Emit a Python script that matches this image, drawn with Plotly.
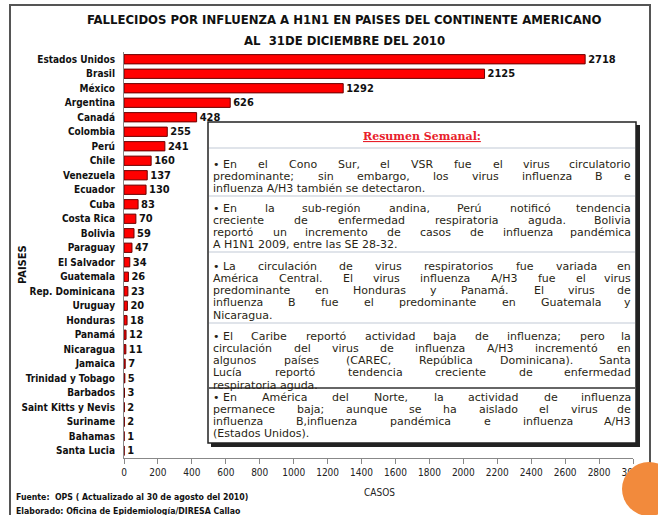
import plotly.graph_objects as go

paises = ['Estados Unidos', 'Brasil', 'México', 'Argentina', 'Canadá', 'Colombia', 'Perú',
          'Chile', 'Venezuela', 'Ecuador', 'Cuba', 'Costa Rica', 'Bolivia', 'Paraguay',
          'El Salvador', 'Guatemala', 'Rep. Dominicana', 'Uruguay', 'Honduras', 'Panamá',
          'Nicaragua', 'Jamaica', 'Trinidad y Tobago', 'Barbados', 'Saint Kitts y Nevis',
          'Suriname', 'Bahamas', 'Santa Lucia']
fallecidos = [2718, 2125, 1292, 626, 428, 255, 241, 160, 137, 130, 83, 70, 59, 47,
              34, 26, 23, 20, 18, 12, 11, 7, 5, 3, 2, 2, 1, 1]

titulo = ['FALLECIDOS POR INFLUENZA A H1N1 EN PAISES DEL CONTINENTE AMERICANO',
          'AL  31DE DICIEMBRE DEL 2010']

resumen = [
    ['• En el Cono Sur, el VSR fue el virus circulatorio',
     'predominante; sin embargo, los virus influenza B e',
     'influenza A/H3 también se detectaron.'],
    ['• En la sub-región andina, Perú notificó tendencia',
     'creciente de enfermedad respiratoria aguda. Bolivia',
     'reportó un incremento de casos de influenza pandémica',
     'A H1N1 2009, entre las SE 28-32.'],
    ['• La circulación de virus respiratorios fue variada en',
     'América Central. El virus influenza A/H3 fue el virus',
     'predominante en Honduras y Panamá. El virus de',
     'influenza B fue el predominante en Guatemala y',
     'Nicaragua.'],
    ['• El Caribe reportó actividad baja de influenza; pero la',
     'circulación del virus de influenza A/H3 incrementó en',
     'algunos países (CAREC, República Dominicana). Santa',
     'Lucía reportó tendencia creciente de enfermedad',
     'respiratoria aguda.'],
    ['• En América del Norte, la actividad de influenza',
     'permanece baja; aunque se ha aislado el virus de',
     'influenza B,influenza pandémica e influenza A/H3',
     '(Estados Unidos).'],
]
inicio_seccion = [164, 208, 266, 336, 397]
separadores = [148, 196, 252, 323, 388]

# area de trazado en pixeles
X0, X1, Y0, Y1 = 124, 633, 52, 458


def px(x):
    return (x - X0) / (X1 - X0)


def py(y):
    return (Y1 - y) / (Y1 - Y0)


# anchos aproximados de DejaVu Sans (fraccion del em) para justificar el texto
ANCHOS = {' ': .318, 'a': .613, 'b': .635, 'c': .55, 'd': .635, 'e': .615, 'f': .352,
          'g': .635, 'h': .634, 'i': .278, 'j': .278, 'k': .579, 'l': .278, 'm': .974,
          'n': .634, 'o': .612, 'p': .635, 'q': .635, 'r': .411, 's': .521, 't': .392,
          'u': .634, 'v': .592, 'w': .818, 'x': .592, 'y': .592, 'z': .525,
          'A': .684, 'B': .686, 'C': .698, 'D': .77, 'E': .632, 'F': .575, 'G': .775,
          'H': .752, 'I': .295, 'L': .557, 'M': .863, 'N': .748, 'O': .787, 'P': .603,
          'R': .695, 'S': .635, 'T': .611, 'U': .732, 'V': .684, '\u00a0': .318,
          '.': .318, ',': .318, ';': .337, ':': .337, '(': .39, ')': .39, '-': .361,
          '/': .337, '•': .59, 'é': .615, 'ó': .612, 'ú': .634, 'á': .613, 'í': .278}


def ancho(palabra, size):
    return sum(ANCHOS.get(c, .636) for c in palabra) * size


FONT = 'DejaVu Sans Condensed, Liberation Sans Narrow, Lato, sans-serif'
TXT = 'DejaVu Sans, Verdana, sans-serif'
TXT_SIZE = 11
TX0, TX1 = 212, 632

fig = go.Figure(go.Bar(
    x=fallecidos, y=paises, orientation='h',
    marker=dict(color='#ff0000', line=dict(color='#6b0000', width=1)),
    text=[str(v) for v in fallecidos], textposition='outside', constraintext='none',
    textfont=dict(family=FONT, size=11, color='#111111', weight='bold'),
    cliponaxis=False,
))

fig.update_layout(
    width=658, height=515,
    paper_bgcolor='#ffffff', plot_bgcolor='#ffffff',
    margin=dict(l=X0, r=658 - X1, t=Y0, b=515 - Y1, autoexpand=False),
    bargap=0.36, showlegend=False,
    font=dict(family=FONT, color='#111111'),
    xaxis=dict(range=[0, 3000], dtick=200, showgrid=False, zeroline=False,
               showline=True, linecolor='#888888', linewidth=1,
               ticks='outside', ticklen=5, tickcolor='#888888',
               tickfont=dict(family=FONT, size=10, color='#222222')),
    yaxis=dict(autorange='reversed', showgrid=False, showline=True,
               linecolor='#888888', linewidth=1, ticks='', ticklabelstandoff=6,
               tickfont=dict(family=FONT, size=10, color='#111111', weight='bold')),
)

shapes = [
    # marco exterior
    dict(type='rect', xref='paper', yref='paper', x0=px(10), x1=px(650), y0=py(525), y1=py(5),
         line=dict(color='#555555', width=2), layer='below'),
    # sombra del cuadro de texto
    dict(type='rect', xref='paper', yref='paper', x0=px(211), x1=px(640), y0=py(447), y1=py(125),
         fillcolor='#222222', line=dict(width=0), layer='above'),
    # cuadro de texto
    dict(type='rect', xref='paper', yref='paper', x0=px(208), x1=px(636), y0=py(443), y1=py(122),
         fillcolor='#ffffff', line=dict(color='#222222', width=1.5), layer='above'),
    # circulo naranja
    dict(type='circle', xref='paper', yref='paper', x0=px(622), x1=px(676), y0=py(516), y1=py(462),
         fillcolor='#f28a3c', line=dict(width=0), layer='above'),
]
for i, s in enumerate(separadores):
    color = '#333333' if i == len(separadores) - 1 else '#d6dbe3'
    shapes.append(dict(type='line', xref='paper', yref='paper', x0=px(209), x1=px(635),
                       y0=py(s), y1=py(s), line=dict(color=color, width=1.5), layer='above'))
fig.update_layout(shapes=shapes)


def nota(texto, x, y, size, xanchor='center', **kw):
    return dict(text=texto, x=px(x), y=py(y), xref='paper', yref='paper', showarrow=False,
                xanchor=xanchor, yanchor='middle', font=dict(family=FONT, size=size, **kw))


annotations = [
    nota(titulo[0], 344, 19, 13, weight='bold', color='#111111'),
    nota(titulo[1], 344, 40, 13, weight='bold', color='#111111'),
    nota('PAISES', 22, 265, 11, weight='bold') | dict(textangle=-90),
    nota('CASOS', 379, 492, 10, color='#222222'),
    nota('Fuente:  OPS ( Actualizado al 30 de agosto del 2010)', 14, 497, 8.7,
         xanchor='left', weight='bold'),
    nota('Elaborado: Oficina de Epidemiología/DIRESA Callao', 14, 511, 8.7,
         xanchor='left', weight='bold'),
    dict(text='<u>Resumen Semanal:</u>', x=px(422), y=py(136), xref='paper', yref='paper',
         showarrow=False, yanchor='middle',
         font=dict(family='DejaVu Serif, serif', size=11, color='#e8202a', weight='bold')),
]

txt_font = dict(family=TXT, size=TXT_SIZE, color='#2a1f14')
for lineas, y_ini in zip(resumen, inicio_seccion):
    for j, linea in enumerate(lineas):
        y = py(y_ini + j * 12.3)
        if j == len(lineas) - 1:
            annotations.append(dict(text=linea, x=px(TX0), y=y, xref='paper', yref='paper',
                                    xanchor='left', yanchor='middle', showarrow=False,
                                    borderpad=0, font=txt_font))
            continue
        # linea justificada: una anotacion por palabra (la viñeta va unida a la primera)
        palabras = linea.replace('• ', '•\u00a0').split(' ')
        anchos = [ancho(p, TXT_SIZE) for p in palabras]
        hueco = (TX1 - TX0 - sum(anchos)) / (len(palabras) - 1)
        xpos = TX0
        for k, (p, w) in enumerate(zip(palabras, anchos)):
            ultima = k == len(palabras) - 1
            annotations.append(dict(text=p, x=px(TX1 if ultima else xpos), y=y,
                                    xref='paper', yref='paper',
                                    xanchor='right' if ultima else 'left', yanchor='middle',
                                    showarrow=False, borderpad=0, font=txt_font))
            xpos += w + hueco
fig.update_layout(annotations=annotations)

fig.write_html('out.html', config={'displayModeBar': False},
               post_script="document.body.style.margin='0';")
